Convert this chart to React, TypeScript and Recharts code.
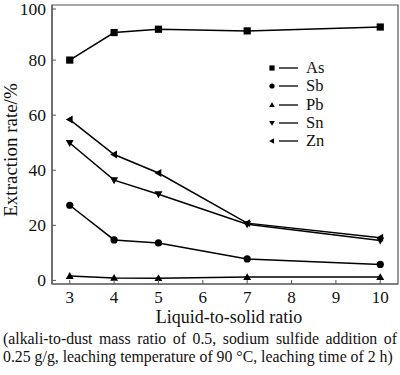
import { LineChart, Line, XAxis, YAxis, ReferenceArea } from "recharts";

const ratios = [3, 4, 5, 7, 10];
const asRate = [80, 90, 91.2, 90.6, 92];
const sbRate = [27.3, 14.7, 13.6, 7.8, 5.8];
const pbRate = [1.6, 0.9, 0.8, 1.2, 1.2];
const snRate = [49.9, 36.4, 31.3, 20.4, 14.5];
const znRate = [58.4, 45.7, 39, 20.8, 15.5];
const xTicks = [3, 4, 5, 6, 7, 8, 9, 10];
const yTicks = [0, 20, 40, 60, 80, 100];

const data = ratios.map((r, i) => ({
  r,
  As: asRate[i],
  Sb: sbRate[i],
  Pb: pbRate[i],
  Sn: snRate[i],
  Zn: znRate[i],
}));

const FONT = "Liberation Serif";
const AXIS = "#555";
const PLOT_LEFT = 52;
const PLOT_BOTTOM = 284;

const marker = (shape, cx, cy, s, key?) => {
  if (shape === "square")
    return <rect key={key} x={cx - s} y={cy - s} width={s * 2} height={s * 2} fill="#000" />;
  if (shape === "circle") return <circle key={key} cx={cx} cy={cy} r={s} fill="#000" />;
  let pts = "";
  if (shape === "up") pts = `${cx},${cy - s * 1.1} ${cx - s * 1.1},${cy + s * 0.8} ${cx + s * 1.1},${cy + s * 0.8}`;
  if (shape === "down") pts = `${cx},${cy + s * 1.1} ${cx - s * 1.1},${cy - s * 0.8} ${cx + s * 1.1},${cy - s * 0.8}`;
  if (shape === "left") pts = `${cx - s * 1.1},${cy} ${cx + s * 0.8},${cy - s * 1.1} ${cx + s * 0.8},${cy + s * 1.1}`;
  return <polygon key={key} points={pts} fill="#000" />;
};

const series = [
  { key: "As", shape: "square" },
  { key: "Sb", shape: "circle" },
  { key: "Pb", shape: "up" },
  { key: "Sn", shape: "down" },
  { key: "Zn", shape: "left" },
];

const XTick = (props) => {
  const { x, payload } = props;
  return (
    <g>
      <line x1={x} x2={x} y1={PLOT_BOTTOM} y2={PLOT_BOTTOM - 4} stroke={AXIS} />
      <text x={x} y={PLOT_BOTTOM + 19} textAnchor="middle" fontSize={17} fontFamily={FONT} fill="#111">
        {payload.value}
      </text>
    </g>
  );
};

const YTick = (props) => {
  const { y, payload } = props;
  return (
    <g>
      <line x1={PLOT_LEFT} x2={PLOT_LEFT + 4} y1={y} y2={y} stroke={AXIS} />
      <text x={46} y={y + 6} textAnchor="end" fontSize={17.5} fontFamily={FONT} fill="#111">
        {payload.value}
      </text>
    </g>
  );
};

const App = () => (
  <div style={{ position: "absolute", left: 0, top: 0, width: 400, height: 375, background: "#fff" }}>
    <LineChart width={400} height={375} data={data} margin={{ top: 5, right: 2, left: 0, bottom: 0 }}>
      <XAxis
        dataKey="r"
        type="number"
        domain={[2.6, 10.4]}
        ticks={xTicks}
        height={91}
        tickSize={0}
        tickLine={false}
        axisLine={{ stroke: AXIS, strokeWidth: 1.2 }}
        tick={XTick}
      />
      <YAxis
        type="number"
        domain={[-1.3, 100]}
        ticks={yTicks}
        width={52}
        tickSize={0}
        tickLine={false}
        axisLine={{ stroke: AXIS, strokeWidth: 1.2 }}
        tick={YTick}
      />
      <ReferenceArea x1={2.6} x2={10.4} y1={-1.3} y2={100} fill="none" stroke={AXIS} strokeWidth={1.2} />
      {series.map((s) => (
        <Line
          key={s.key}
          dataKey={s.key}
          stroke="#000"
          strokeWidth={1.5}
          isAnimationActive={false}
          dot={(p) => marker(s.shape, p.cx, p.cy, 3.6, `${s.key}-${p.index}`)}
          activeDot={false}
        />
      ))}
    </LineChart>
    <div
      style={{
        position: "absolute",
        left: 266,
        top: 59,
        fontFamily: FONT,
        fontSize: 16.5,
        lineHeight: "18px",
        color: "#111",
      }}
    >
      {series.map((s) => (
        <div key={s.key} style={{ display: "flex", alignItems: "center", height: 18.3 }}>
          <svg width={40} height={18}>
            {marker(s.shape, 6, 9, 2.6)}
            <line x1={13} x2={32} y1={9} y2={9} stroke="#000" strokeWidth={1.3} />
          </svg>
          <span>{s.key}</span>
        </div>
      ))}
    </div>
    <div
      style={{
        position: "absolute",
        left: 11,
        top: 150,
        transform: "translate(-50%, -50%) rotate(-90deg)",
        whiteSpace: "nowrap",
        fontFamily: FONT,
        fontSize: 19,
        lineHeight: "18px",
        color: "#111",
      }}
    >
      Extraction rate/%
    </div>
    <div
      style={{
        position: "absolute",
        left: 0,
        width: 458,
        top: 307,
        textAlign: "center",
        fontFamily: FONT,
        fontSize: 18,
        color: "#111",
      }}
    >
      Liquid-to-solid ratio
    </div>
    <div
      style={{
        position: "absolute",
        left: 3,
        width: 394,
        top: 330,
        fontFamily: FONT,
        fontSize: 15.8,
        color: "#111",
        lineHeight: "18px",
      }}
    >
      <div style={{ textAlign: "justify", textAlignLast: "justify", whiteSpace: "nowrap" }}>
        (alkali-to-dust mass ratio of 0.5, sodium sulfide addition of
      </div>
      <div style={{ whiteSpace: "nowrap" }}>0.25 g/g, leaching temperature of 90 °C, leaching time of 2 h)</div>
    </div>
  </div>
);

export default App;
